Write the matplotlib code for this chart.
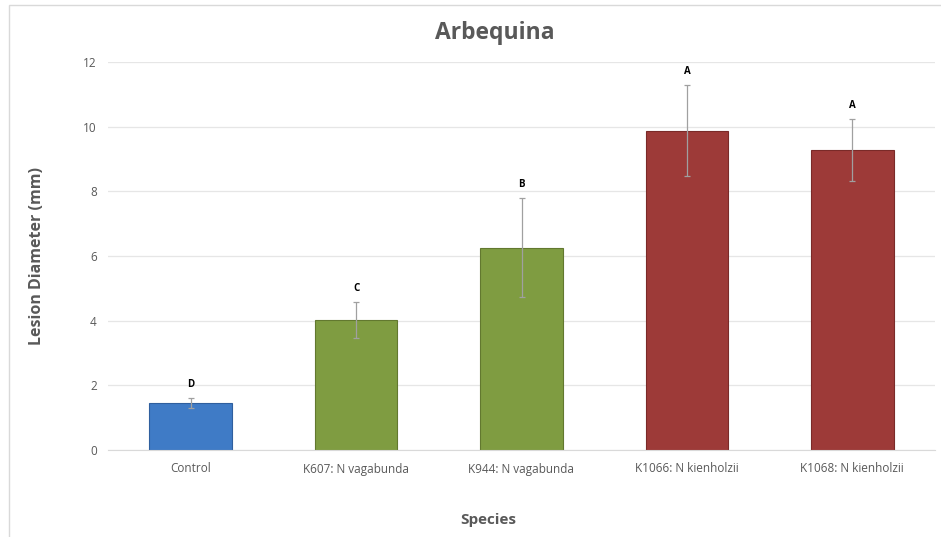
import matplotlib
matplotlib.use('Agg')
import matplotlib.pyplot as plt
from matplotlib.patches import Rectangle

categories = ['Control', 'K607: N vagabunda', 'K944: N vagabunda',
              'K1066: N kienholzii', 'K1068: N kienholzii']
means = [1.45, 4.02, 6.25, 9.88, 9.28]
errors = [0.15, 0.56, 1.53, 1.41, 0.96]
letters = ['D', 'C', 'B', 'A', 'A']
colors = ['#3F7BC6', '#7F9C41', '#9D3A38']
bar_colors = [colors[0], colors[1], colors[1], colors[2], colors[2]]
edge_colors = ['#2F5F9E', '#62782F', '#7A2A28']
bar_edges = [edge_colors[0], edge_colors[1], edge_colors[1], edge_colors[2], edge_colors[2]]

plt.rcParams['font.family'] = ['Open Sans', 'DejaVu Sans']
grey = '#595959'

fig = plt.figure(figsize=(9.41, 5.37), dpi=100)
fig.patches.append(Rectangle((9/941, -0.1), 1.0, 1 - 5/537 + 0.1, transform=fig.transFigure,
                             fill=False, edgecolor='#D9D9D9', linewidth=1))
ax = fig.add_axes([108/941, 1 - 450/537, (935 - 108)/941, (450 - 62)/537])

x = list(range(len(categories)))
ax.bar(x, means, width=0.5, color=bar_colors, edgecolor=bar_edges, linewidth=0.8, zorder=2)
ax.errorbar(x, means, yerr=errors, fmt='none', ecolor='#A0A0A0', elinewidth=0.9,
            capsize=2.5, capthick=0.9, zorder=3)
for i in x:
    ax.text(i, means[i] + errors[i] + 0.25, letters[i], ha='center', va='bottom',
            fontsize=7, fontweight='bold', color='black')

ax.set_xlim(-0.5, len(categories) - 0.5)
ax.set_ylim(0, 12)
ax.set_yticks(range(0, 13, 2))
ax.set_xticks(x)
ax.set_xticklabels(categories, fontsize=8.5)
ax.grid(axis='y', color='#E6E6E6', linewidth=0.9, zorder=0)
ax.set_axisbelow(True)
for s in ['top', 'right', 'left']:
    ax.spines[s].set_visible(False)
ax.spines['bottom'].set_color('#D9D9D9')
ax.tick_params(axis='both', length=0, colors=grey, labelsize=8.5)
ax.tick_params(axis='y', pad=8)
ax.tick_params(axis='x', pad=9)

fig.text(495/941, 1 - 33/537, 'Arbequina', fontsize=16.5, fontweight='bold', color=grey,
         ha='center', va='center')
ax.set_ylabel('Lesion Diameter (mm)', fontsize=11.5, fontweight='bold', color=grey)
ax.yaxis.set_label_coords((37 - 108)/827, 0.5)
ax.set_xlabel('Species', fontsize=11, fontweight='bold', color=grey)
ax.xaxis.set_label_coords((488 - 108)/827, -(520 - 450)/388)
ax.xaxis.label.set_va('center')
ax.yaxis.label.set_va('center')

fig.savefig('out.png', dpi=100)
